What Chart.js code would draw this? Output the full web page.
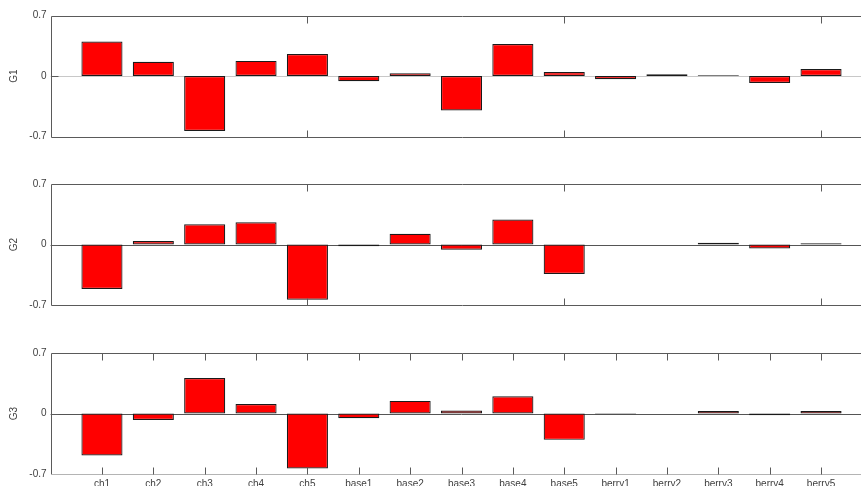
<!DOCTYPE html>
<html>
<head>
<meta charset="utf-8">
<script src="https://cdn.jsdelivr.net/npm/chart.js@4.4.1/dist/chart.umd.min.js"></script>
<style>
  html, body { margin: 0; padding: 0; background: #fff; width: 861px; height: 486px; overflow: hidden; }
  #wrap { position: relative; width: 861px; height: 486px; overflow: hidden; }
  canvas { position: absolute; left: 0; }
</style>
</head>
<body>
<div id="wrap">
  <canvas id="g1" width="880" height="168" style="top:0px"></canvas>
  <canvas id="g2" width="880" height="168" style="top:168px"></canvas>
  <canvas id="g3" width="880" height="168" style="top:337px"></canvas>
</div>
<script>
// Factor loadings per feature, one panel per component
const categories = ['ch1', 'ch2', 'ch3', 'ch4', 'ch5', 'base1', 'base2', 'base3', 'base4', 'base5',
                    'berry1', 'berry2', 'berry3', 'berry4', 'berry5'];
const g1Values = [0.40, 0.165, -0.635, 0.175, 0.255, -0.06, 0.033, -0.40, 0.37, 0.045,
                  -0.037, 0.02, 0.008, -0.08, 0.08];
const g2Values = [-0.515, 0.04, 0.234, 0.257, -0.64, -0.02, 0.125, -0.06, 0.29, -0.34,
                  0, 0, 0.02, -0.045, 0.015];
const g3Values = [-0.486, -0.075, 0.41, 0.11, -0.635, -0.055, 0.146, 0.035, 0.20, -0.305,
                  -0.009, 0, 0.03, -0.02, 0.03];
const yTickValues = [-0.7, 0, 0.7];
const sparseXTicks = [5, 10, 15];

const TEXT = '#404040';
const AXIS = '#5a5a5a';
const FONT = { family: "'Liberation Sans', Arial, sans-serif", size: 10 };
const TICK_LEN = 7;

// Axis box, inward tick marks and the zero baseline
const frame = {
  id: 'frame',
  beforeDatasetsDraw(chart, args, opts) {
    const { ctx, chartArea: a, scales: { y } } = chart;
    const y0 = Math.round(y.getPixelForValue(0)) + 0.5;
    ctx.save();
    ctx.strokeStyle = opts.zeroColor;
    ctx.lineWidth = 1;
    ctx.beginPath();
    ctx.moveTo(a.left, y0);
    ctx.lineTo(a.right, y0);
    ctx.stroke();
    ctx.restore();
  },
  afterDatasetsDraw(chart, args, opts) {
    const { ctx, chartArea: a, scales: { x, y } } = chart;
    const top = Math.round(y.getPixelForValue(y.max)) + 0.5;
    const bot = Math.round(y.getPixelForValue(y.min)) + 0.5;
    const left = Math.round(a.left) + 0.5;
    ctx.save();
    ctx.lineWidth = 1;
    ctx.strokeStyle = AXIS;
    ctx.beginPath();
    ctx.moveTo(left, top); ctx.lineTo(a.right + 1, top);
    ctx.moveTo(left, top); ctx.lineTo(left, bot);
    ctx.stroke();
    ctx.strokeStyle = opts.bottomColor;
    ctx.beginPath();
    ctx.moveTo(left, bot); ctx.lineTo(a.right + 1, bot);
    ctx.stroke();
    ctx.strokeStyle = AXIS;
    ctx.beginPath();
    x.ticks.forEach(t => {
      const px = Math.round(x.getPixelForValue(t.value)) + 0.5;
      ctx.moveTo(px, top); ctx.lineTo(px, top + TICK_LEN);
      ctx.moveTo(px, bot); ctx.lineTo(px, bot - TICK_LEN);
    });
    const yz = Math.round(y.getPixelForValue(0)) + 0.5;
    ctx.moveTo(left, yz); ctx.lineTo(left + TICK_LEN, yz);
    ctx.stroke();
    ctx.restore();
  }
};

function makePanel(id, title, values, opts) {
  const points = values.map((v, i) => ({ x: i + 1, y: v }));
  new Chart(document.getElementById(id), {
    type: 'bar',
    data: {
      datasets: [{
        data: points,
        backgroundColor: '#ff0000',
        borderColor: '#1a1a1a',
        borderWidth: 1.2,
        borderSkipped: false,
        barPercentage: 0.8,
        categoryPercentage: 1.0
      }]
    },
    options: {
      responsive: false,
      animation: false,
      devicePixelRatio: 1,
      layout: { padding: { top: opts.top, left: 0, right: 7.6, bottom: 0 } },
      plugins: {
        legend: { display: false },
        tooltip: { enabled: false },
        frame: { zeroColor: opts.zeroColor, bottomColor: opts.bottomColor }
      },
      scales: {
        x: {
          type: 'linear',
          min: 0,
          max: categories.length + 1,
          offset: false,
          grid: { display: false, drawTicks: false },
          border: { display: false },
          afterBuildTicks(scale) {
            const vals = opts.labels ? categories.map((c, i) => i + 1) : sparseXTicks;
            scale.ticks = vals.map(v => ({ value: v }));
          },
          afterFit(scale) { scale.height = 168 - opts.top - 121; },
          ticks: {
            display: !!opts.labels,
            autoSkip: false,
            maxRotation: 0,
            minRotation: 0,
            padding: 4,
            color: TEXT,
            font: FONT,
            callback: v => categories[v - 1] || ''
          }
        },
        y: {
          min: -0.7,
          max: 0.7,
          grid: { display: false, drawTicks: false },
          border: { display: false },
          afterBuildTicks(scale) { scale.ticks = yTickValues.map(v => ({ value: v })); },
          afterFit(scale) { scale.width = 50.6; },
          ticks: {
            padding: 4,
            color: TEXT,
            font: FONT,
            callback: v => String(v)
          },
          title: {
            display: true,
            text: title,
            color: TEXT,
            font: FONT,
            padding: { top: 8, bottom: 0 }
          }
        }
      }
    },
    plugins: [frame]
  });
}

makePanel('g1', 'G1', g1Values, { top: 15.5, zeroColor: '#c8c8c8', bottomColor: AXIS, labels: false });
makePanel('g2', 'G2', g2Values, { top: 16, zeroColor: '#555555', bottomColor: AXIS, labels: false });
makePanel('g3', 'G3', g3Values, { top: 16, zeroColor: '#555555', bottomColor: '#b4b4b4', labels: true });
</script>
</body>
</html>
